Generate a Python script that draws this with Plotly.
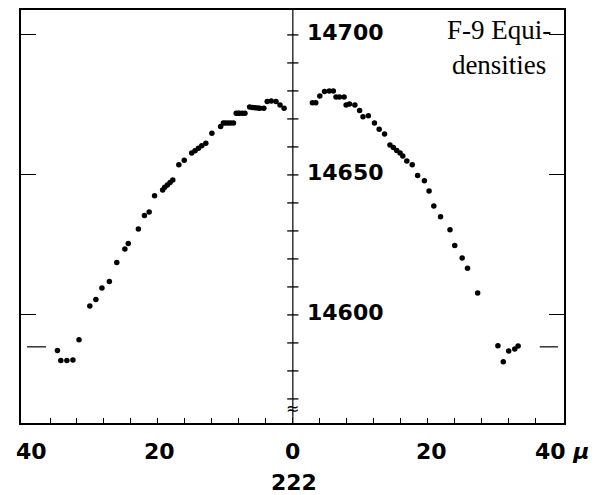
import plotly.graph_objects as go

# ---- data ----
left_x = [-34.9, -34.4, -33.5, -32.6, -31.7, -30.1, -29.2, -28.3, -27.2, -26.1,
          -24.9, -24.4, -22.9, -22.0, -21.3, -20.5, -19.3, -19.0, -18.6, -18.2,
          -17.8, -16.9, -16.1, -15.0, -14.5, -14.0, -13.5, -12.9, -12.0, -10.7,
          -10.3, -10.0, -9.6, -9.2, -8.8, -8.4, -8.1, -7.9, -7.5, -7.1,
          -6.4, -6.0, -5.6, -5.2, -4.9, -4.3, -3.8, -3.2, -2.5, -1.9, -1.3]
left_y = [14587.3, 14583.7, 14583.7, 14583.9, 14591.1, 14603.2, 14605.5, 14609.6, 14611.9, 14618.7,
          14623.5, 14625.5, 14630.7, 14635.5, 14636.8, 14642.6, 14644.6, 14645.6, 14646.4, 14647.3,
          14648.2, 14653.6, 14655.2, 14657.8, 14658.6, 14659.5, 14660.4, 14661.3, 14664.9, 14667.3,
          14668.5, 14668.5, 14668.5, 14668.5, 14668.5, 14672.0, 14672.0, 14672.0, 14672.0, 14672.0,
          14674.3, 14674.1, 14674.0, 14673.9, 14673.8, 14673.8, 14676.2, 14676.4, 14676.2, 14675.0, 14673.8]

right_x = [2.9, 3.4, 4.0, 4.7, 5.4, 6.0, 6.4, 6.9, 7.6, 7.9, 8.4, 9.2, 9.9,
           10.4, 11.2, 12.1, 12.8, 13.6, 14.4, 14.9, 15.4, 15.9, 16.3, 16.9,
           17.7, 18.5, 19.5, 20.2, 20.9, 21.9, 23.3, 24.0, 25.1, 25.9, 27.4,
           30.4, 31.2, 32.0, 32.9, 33.4]
right_y = [14675.8, 14675.8, 14678.2, 14679.8, 14680.0, 14680.0, 14677.8, 14677.8, 14677.8,
           14675.0, 14675.3, 14675.0, 14673.0, 14670.8, 14671.1, 14668.5, 14666.3, 14664.6,
           14660.7, 14659.8, 14658.7, 14657.8, 14656.8, 14655.0, 14653.6, 14649.8, 14647.9,
           14644.3, 14638.9, 14635.1, 14630.4, 14624.8, 14620.3, 14616.7, 14607.8,
           14589.0, 14583.3, 14587.1, 14587.8, 14588.9]

x_tick_vals = [-36, -32, -28, -24, -20, -16, -12, -8, -4, 0, 4, 8, 12, 16, 20, 24, 28, 32, 36]
x_label_pos = [-38.7, -19.7, -0.1, 20.6]
x_label_txt = ["40", "20", "0", "20"]
x_end_label_pos = 35.6
x_end_label_txt = "40 <i>µ</i>"
frame_y_ticks = [14600, 14650, 14700]
center_ticks = [14570, 14580, 14590, 14600, 14610, 14620, 14630, 14640, 14650,
                14660, 14670, 14680, 14690, 14700]
center_labels = [14700, 14650, 14600]
baseline_level = 14588.6
order_label = "222"

X_RANGE = [-40.3, 40.2]
Y_RANGE = [14561.4, 14708.9]

fig = go.Figure()

dot = dict(color="black", size=5.5)
fig.add_trace(go.Scatter(x=left_x, y=left_y, mode="markers", marker=dot,
                         showlegend=False, hoverinfo="skip"))
fig.add_trace(go.Scatter(x=right_x, y=right_y, mode="markers", marker=dot,
                         showlegend=False, hoverinfo="skip"))

# center axis ticks
fig.add_trace(go.Scatter(x=[0] * len(center_ticks), y=center_ticks, mode="markers",
                         marker=dict(symbol="line-ew", size=8,
                                     line=dict(color="black", width=1.3)),
                         showlegend=False, hoverinfo="skip"))

# center vertical axis
fig.add_shape(type="line", xref="x", yref="paper", x0=0, x1=0, y0=0, y1=1,
              line=dict(color="black", width=1.2))

# baseline marks
fig.add_shape(type="line", xref="x", yref="y", x0=-39.4, x1=-36.6,
              y0=baseline_level, y1=baseline_level, line=dict(color="black", width=1.2))
fig.add_shape(type="line", xref="x", yref="y", x0=36.6, x1=39.3,
              y0=baseline_level, y1=baseline_level, line=dict(color="black", width=1.2))

num_font = dict(family="DejaVu Sans, Liberation Sans, sans-serif", size=22, color="black")

for v in center_labels:
    fig.add_annotation(x=1.8, y=v + 0.7, xref="x", yref="y", text=f"<b>{v}</b>",
                       showarrow=False, xanchor="left", yanchor="middle", font=num_font)

for xp, t in zip(x_label_pos, x_label_txt):
    fig.add_annotation(x=xp, y=-0.070, xref="x", yref="paper", text=f"<b>{t}</b>",
                       showarrow=False, xanchor="center", yanchor="middle", font=num_font)
fig.add_annotation(x=x_end_label_pos, y=-0.070, xref="x", yref="paper",
                   text=f"<b>{x_end_label_txt}</b>",
                   showarrow=False, xanchor="left", yanchor="middle", font=num_font)

fig.add_annotation(x=0.2, y=-0.145, xref="x", yref="paper", text=f"<b>{order_label}</b>",
                   showarrow=False, xanchor="center", yanchor="middle", font=num_font)

# axis break symbol
fig.add_annotation(x=0, y=14566.5, xref="x", yref="y", text="≈", showarrow=False,
                   xanchor="center", yanchor="middle",
                   font=dict(family="DejaVu Sans", size=16, color="black"))

# title text
fig.add_annotation(x=30.6, y=14695.4, xref="x", yref="y", text="F-9 Equi-<br>densities",
                   showarrow=False, xanchor="center", yanchor="middle", align="center",
                   font=dict(family="Liberation Serif, Times New Roman, serif", size=27,
                             color="black"))

fig.update_xaxes(range=X_RANGE, showgrid=False, zeroline=False, showline=True,
                 linecolor="black", linewidth=1.5, mirror=True,
                 tickmode="array", tickvals=x_tick_vals, ticks="inside", ticklen=5,
                 tickwidth=1, tickcolor="black", showticklabels=False)
fig.update_yaxes(range=Y_RANGE, showgrid=False, zeroline=False, showline=True,
                 linecolor="black", linewidth=1.5, mirror="ticks",
                 tickmode="array", tickvals=frame_y_ticks, ticks="inside", ticklen=15,
                 tickwidth=1.2, tickcolor="black", showticklabels=False)

fig.update_layout(width=596, height=495, plot_bgcolor="white", paper_bgcolor="white",
                  margin=dict(l=21, r=32, t=10, b=72, autoexpand=False))

fig.write_html("out.html")
